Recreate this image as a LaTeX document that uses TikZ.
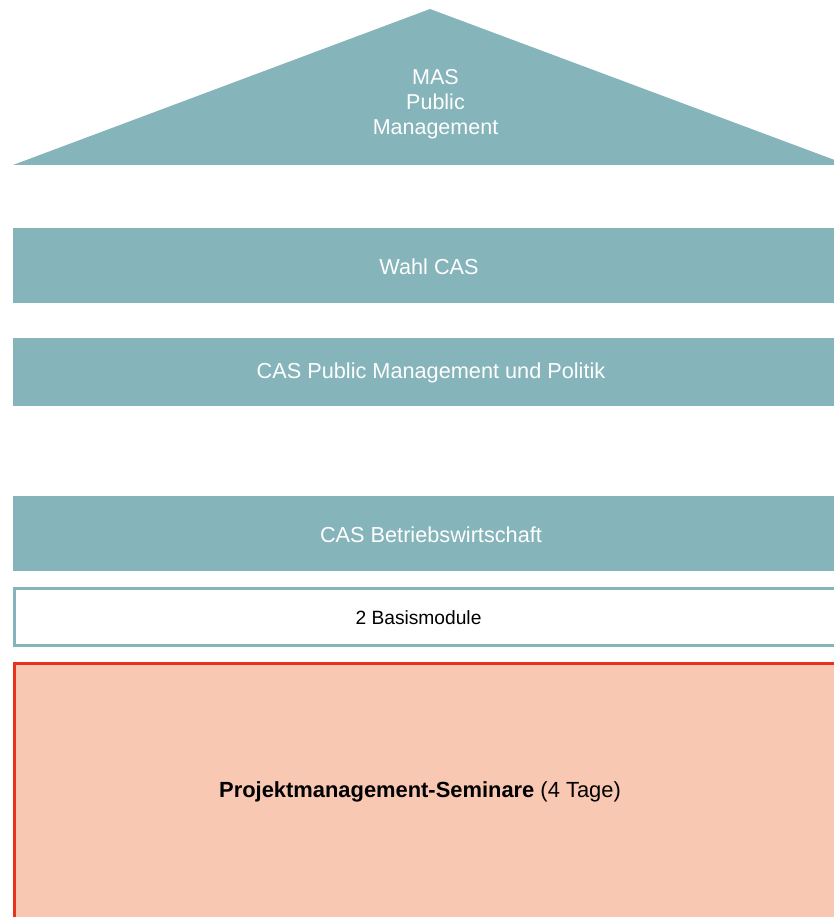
\documentclass[tikz,border=0pt]{standalone}
\usepackage{fontspec}
\setmainfont{Liberation Sans}
\definecolor{teal1}{HTML}{85B4BA}
\definecolor{peach}{HTML}{F9C8B2}
\definecolor{redline}{HTML}{E8321E}
\tikzset{
  bar/.style={fill=teal1},
  bartext/.style={text=white, font=\fontsize{21.7}{25}\selectfont, inner sep=0pt, anchor=center},
  darktext/.style={text=black, inner sep=0pt, anchor=center},
}
\begin{document}
\begin{tikzpicture}[x=1pt,y=-1pt]
\useasboundingbox (0,0) rectangle (834,917);
\clip (0,0) rectangle (834,917);
% roof
\fill[bar] (13,165) -- (430,9) -- (848,165) -- cycle;
\node[bartext, align=center, font=\fontsize{21.5}{25}\selectfont] (mas) at (435.5,104) {MAS\\Public\\Management};
% bars
\fill[bar] (13,228) rectangle (860,303);
\node[bartext] (wahl) at (429,267) {Wahl CAS};
\fill[bar] (13,338) rectangle (860,405.5);
\node[bartext] (pmp) at (431,372.5) {CAS Public Management und Politik};
\fill[bar] (13,496) rectangle (860,571);
\node[bartext] (bw) at (431,535) {CAS Betriebswirtschaft};
% Basismodule
\draw[draw=teal1, line width=2.2pt, fill=white] (14.5,588.5) rectangle (860,645.5);
\node[darktext, font=\fontsize{19.2}{22}\selectfont] (basis) at (418.5,618) {2 Basismodule};
% Projektmanagement
\draw[draw=redline, line width=2.2pt, fill=peach] (14.5,663.5) rectangle (860,940);
\node[darktext, font=\fontsize{21.9}{25}\selectfont] (proj) at (420,791.5) {\textbf{Projektmanagement-Seminare} (4 Tage)};
\end{tikzpicture}
\end{document}
